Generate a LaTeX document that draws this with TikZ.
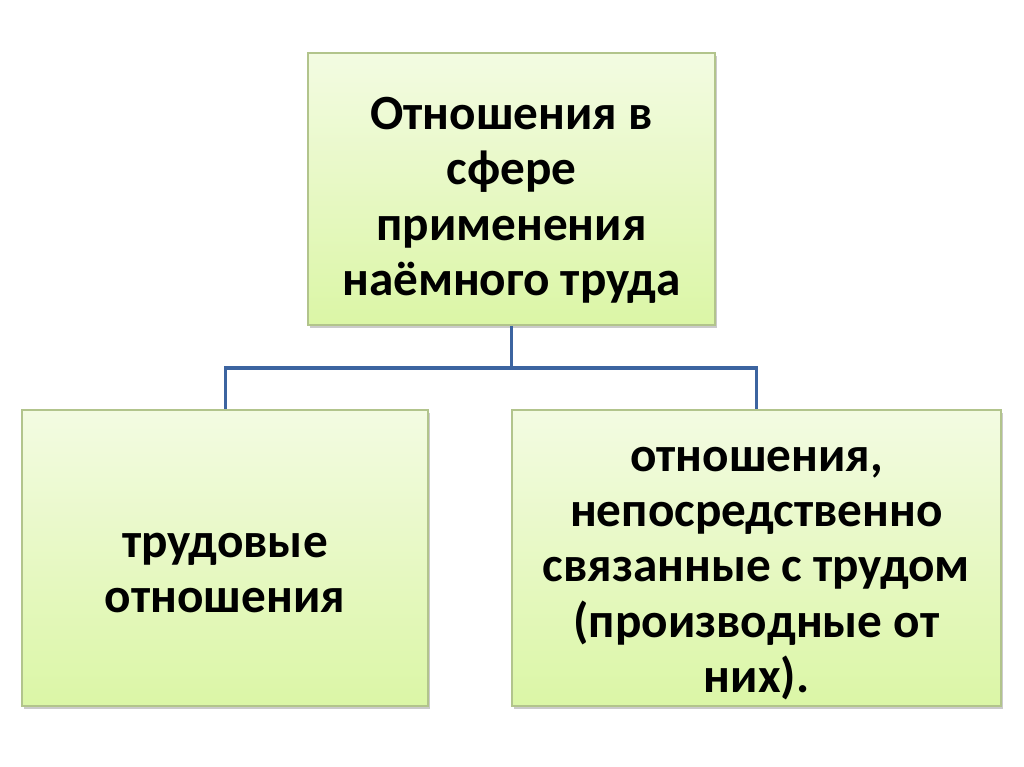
\documentclass[tikz,border=0pt]{standalone}
\usepackage{fontspec}
\setmainfont{Carlito}
\usetikzlibrary{positioning, shadows}
\definecolor{box_top}{RGB}{243,251,226}
\definecolor{box_bottom}{RGB}{219,246,166}
\definecolor{box_line}{RGB}{178,196,140}
\definecolor{link_blue}{RGB}{60,100,160}
\newcommand{\boxstrut}{\rule{0pt}{0.55cm}}
\begin{document}
\begin{tikzpicture}[
      x=0.01cm, y=-0.01cm,
      font=\fontsize{14}{15.7}\selectfont\bfseries,
      box/.style ={draw=box_line, line width=0.4pt, top color=box_top, bottom color=box_bottom,
                   align=center, inner sep=0pt,
                   drop shadow={shadow xshift=0.6pt, shadow yshift=-0.8pt, fill=black!40, opacity=0.5}},
      link/.style={draw=link_blue, line width=0.03cm}
    ]
    \useasboundingbox[fill=white] (0,0) rectangle (1024,767);

    % --- Верхний блок ---
    \node[box, minimum width=4.07cm, minimum height=2.72cm] (root) at (511.5,189)
        {\boxstrut Отношения в\\сфере\\применения\\наёмного труда};

    % --- Нижние блоки ---
    \node[box, minimum width=4.06cm, minimum height=2.96cm] (labor) at (225,558)
        {\boxstrut трудовые\\отношения};
    \node[box, minimum width=4.89cm, minimum height=2.96cm] (derived) at (756.5,558)
        {\boxstrut отношения,\\непосредственно\\связанные с трудом\\(производные от\\них).};

    % --- Связи ---
    \coordinate (fork) at (511.5,368);
    \draw[link] (root.south) -- (fork);
    \draw[link] (labor.north) |- (fork) -| (derived.north);

  \end{tikzpicture}
\end{document}
